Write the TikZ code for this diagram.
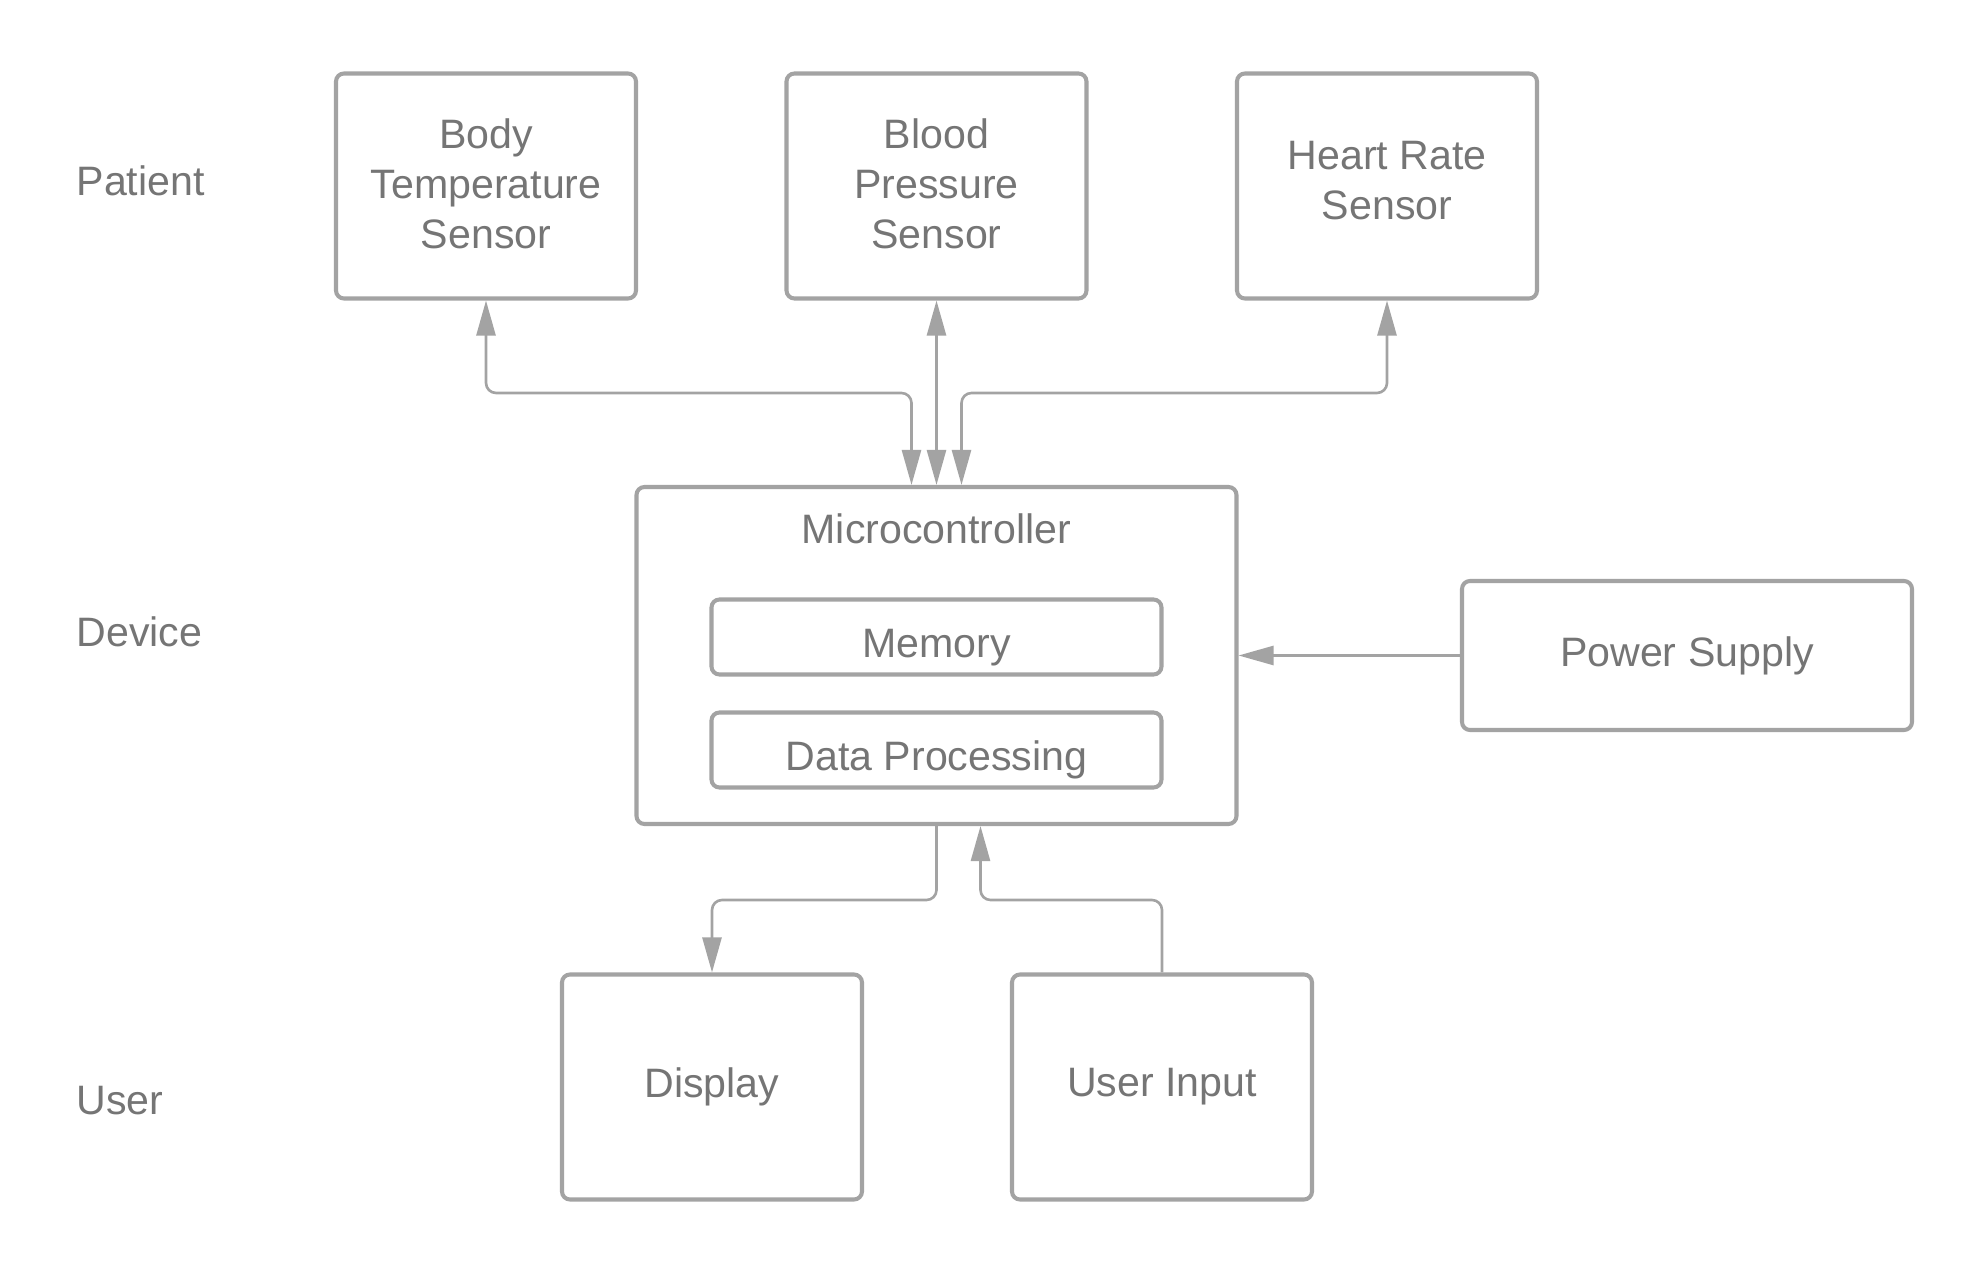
\documentclass[tikz,border=0pt]{standalone}
\usepackage{fontspec}
\setmainfont{Liberation Sans}
\usetikzlibrary{arrows.meta}
\definecolor{linegray}{HTML}{A3A3A3}
\definecolor{textgray}{HTML}{757575}
\tikzset{
  tri/.tip={Triangle[length=0.35cm,width=0.19cm]},
  box/.style={draw=linegray, line width=1.15pt, rounded corners=0.08cm,
    minimum width=3cm, minimum height=2.25cm, align=center, text=textgray, inner sep=0pt},
  inbox/.style={box, minimum width=4.5cm, minimum height=0.75cm, text height=0.49cm, text depth=0.08cm},
  link/.style={draw=linegray, line width=0.75pt, rounded corners=0.1cm},
  layer/.style={text=textgray, anchor=west, inner sep=0pt}
}
\begin{document}
\begin{tikzpicture}[font=\fontsize{11.7}{14.2}\selectfont]
  \useasboundingbox (0,0) rectangle (19.88,12.75);

  % layers
  \node[layer] (patient) at (0.76,10.94) {Patient};
  \node[layer] (device) at (0.76,6.435) {Device};
  \node[layer] (user) at (0.76,1.745) {User};

  % sensors
  \node[box, text depth=0.05cm] (bodytemp) at (4.86,10.89) {Body\\Temperature\\Sensor};
  \node[box, text depth=0.05cm] (bloodpres) at (9.365,10.89) {Blood\\Pressure\\Sensor};
  \node[box, text depth=0.11cm] (heartrate) at (13.87,10.89) {Heart Rate\\Sensor};

  % device
  \node[box, minimum width=6cm, minimum height=3.37cm] (mcu) at (9.365,6.195) {};
  \node[text=textgray] (mcutitle) at (9.365,7.46) {Microcontroller};
  \node[inbox] (memory) at (9.365,6.38) {Memory};
  \node[inbox] (dataproc) at (9.365,5.25) {Data Processing};
  \node[box, minimum width=4.5cm, minimum height=1.49cm] (power) at (16.87,6.195) {Power Supply};

  % user side
  \node[box] (display) at (7.12,1.88) {Display};
  \node[box] (userin) at (11.62,1.88) {User Input};

  \coordinate (busup) at (0,8.82);
  \coordinate (busdown) at (0,3.75);
  \coordinate (mcuinl) at ([xshift=-0.25cm]mcu.north);
  \coordinate (mcuinr) at ([xshift=0.25cm]mcu.north);
  \coordinate (mcuinb) at ([xshift=0.44cm]mcu.south);

  \draw[link, tri-tri] (bodytemp.south) -- (bodytemp.south |- busup) -- (mcuinl |- busup) -- (mcuinl);
  \draw[link, tri-tri] (bloodpres.south) -- (mcu.north);
  \draw[link, tri-tri] (heartrate.south) -- (heartrate.south |- busup) -- (mcuinr |- busup) -- (mcuinr);
  \draw[link, -tri] (power.west) -- (mcu.east);
  \draw[link, -tri] (mcu.south) -- (mcu.south |- busdown) -- (display.north |- busdown) -- (display.north);
  \draw[link, -tri] (userin.north) -- (userin.north |- busdown) -- (mcuinb |- busdown) -- (mcuinb);
\end{tikzpicture}
\end{document}
